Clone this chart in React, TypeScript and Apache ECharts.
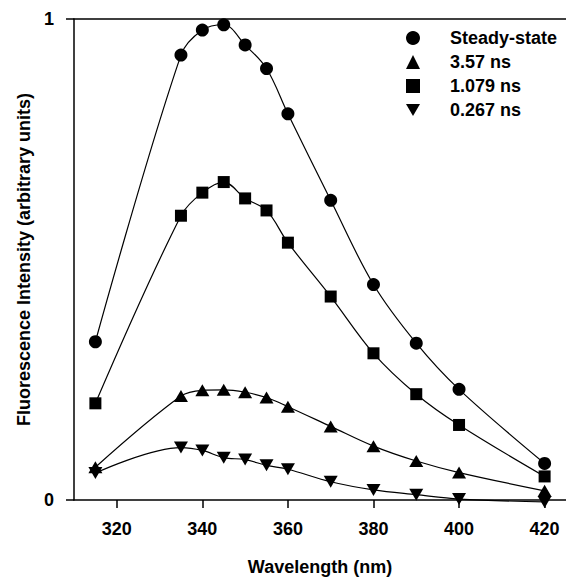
import React, { useEffect, useRef } from "react";
import * as echarts from "echarts";

const wavelengths = [315, 335, 340, 345, 350, 355, 360, 370, 380, 390, 400, 420];
const steadyState = [0.329, 0.925, 0.977, 0.988, 0.946, 0.897, 0.803, 0.623, 0.448, 0.326, 0.23, 0.076];
const ns357 = [0.068, 0.216, 0.228, 0.229, 0.224, 0.213, 0.194, 0.153, 0.112, 0.081, 0.057, 0.019];
const ns1079 = [0.201, 0.591, 0.639, 0.661, 0.627, 0.602, 0.535, 0.423, 0.305, 0.22, 0.156, 0.049];
const ns0267 = [0.056, 0.109, 0.103, 0.088, 0.084, 0.072, 0.064, 0.038, 0.021, 0.011, 0.002, -0.004];
const xTicks = [320, 340, 360, 380, 400, 420];
const seriesNames = ["Steady-state", "3.57 ns", "1.079 ns", "0.267 ns"];

const FONT = "'Liberation Sans', Arial, Helvetica, sans-serif";
const INV_TRI = "path://M0,0L14,0L7,12Z";

const pairs = (ys: number[]) => wavelengths.map((x, i) => [x, ys[i]]);

export default function App() {
  const ref = useRef<HTMLDivElement>(null);
  useEffect(() => {
    if (!ref.current) return;
    const chart = echarts.init(ref.current, undefined, { renderer: "svg" });
    const textBase = { fontFamily: FONT, fontSize: 18, fontWeight: "bold" as const, color: "#000" };
    const lineBase = {
      type: "line" as const,
      smooth: 0.35,
      clip: false,
      lineStyle: { color: "#000", width: 1.2 },
      itemStyle: { color: "#000" },
      emphasis: { disabled: true },
    };
    chart.setOption({
      animation: false,
      backgroundColor: "#fff",
      grid: { left: 74, right: 0, top: 19, bottom: 75 },
      xAxis: [
        {
          type: "value",
          min: 310,
          max: 425,
          position: "bottom",
          axisLine: { show: true, lineStyle: { color: "#000", width: 1.5 } },
          axisTick: { show: true, customValues: xTicks, length: 8, lineStyle: { color: "#000", width: 1.5 } },
          axisLabel: { customValues: xTicks, margin: 20, ...textBase },
          splitLine: { show: false },
          name: "Wavelength (nm)",
          nameLocation: "middle",
          nameGap: 58,
          nameTextStyle: textBase,
        },
        {
          type: "value",
          min: 310,
          max: 425,
          position: "top",
          axisLine: { show: true, lineStyle: { color: "#000", width: 1.5 } },
          axisTick: { show: false },
          axisLabel: { show: false },
          splitLine: { show: false },
        },
      ],
      yAxis: {
        type: "value",
        min: 0,
        max: 1,
        interval: 1,
        axisLine: { show: true, lineStyle: { color: "#000", width: 1.5 } },
        axisTick: { show: true, length: 8, lineStyle: { color: "#000", width: 1.5 } },
        axisLabel: { margin: 20, ...textBase },
        splitLine: { show: false },
        name: "Fluorescence Intensity (arbitrary units)",
        nameLocation: "middle",
        nameGap: 41,
        nameTextStyle: textBase,
      },
      legend: {
        orient: "vertical",
        left: 406,
        top: 29,
        padding: 0,
        itemWidth: 14,
        itemHeight: 14,
        itemGap: 6,
        selectedMode: false,
        textStyle: { ...textBase, lineHeight: 18, padding: [0, 0, 0, 25] },
        data: [
          { name: seriesNames[0], icon: "circle" },
          { name: seriesNames[1], icon: "triangle" },
          { name: seriesNames[2], icon: "rect" },
          { name: seriesNames[3], icon: INV_TRI },
        ],
      },
      series: [
        { ...lineBase, name: seriesNames[0], data: pairs(steadyState), symbol: "circle", symbolSize: 13 },
        { ...lineBase, name: seriesNames[1], data: pairs(ns357), symbol: "triangle", symbolSize: [14, 12] },
        { ...lineBase, name: seriesNames[2], data: pairs(ns1079), symbol: "rect", symbolSize: 12 },
        { ...lineBase, name: seriesNames[3], data: pairs(ns0267), symbol: INV_TRI, symbolSize: [14, 12] },
      ],
    });
    return () => chart.dispose();
  }, []);
  return <div ref={ref} style={{ position: "absolute", left: 0, top: 0, width: 566, height: 581 }} />;
}
